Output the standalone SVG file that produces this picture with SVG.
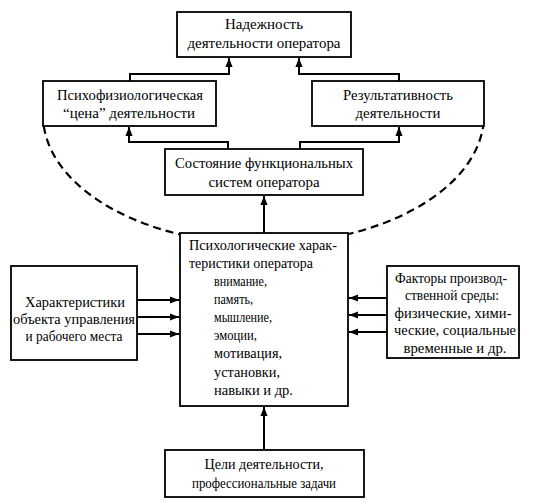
<svg xmlns="http://www.w3.org/2000/svg" width="541" height="503" viewBox="0 0 541 503">
<style>
.box{fill:#fff;stroke:#000;stroke-width:1.8}
.ln{fill:none;stroke:#000;stroke-width:2}
.dash{fill:none;stroke:#000;stroke-width:2.2;stroke-dasharray:8 5}
text{font-family:"Liberation Serif","DejaVu Serif",serif;font-size:15px;fill:#000}
.c{text-anchor:middle}
</style>
<defs>
<marker id="ah" viewBox="0 0 10 10" refX="10" refY="5" markerWidth="4.5" markerHeight="4.5" markerUnits="strokeWidth" orient="auto">
<path d="M0,1 L10,5 L0,9 z" fill="#000"/>
</marker>
</defs>
<rect width="541" height="503" fill="#fff"/>
<path class="dash" d="M43.8,126 A220.5,129 0 0 0 483.2,126"/>
<g id="connectors">
<polyline class="ln" points="130,81 130,74 229,74 229,58" marker-end="url(#ah)"/>
<polyline class="ln" points="399,81 399,74 299,74 299,58" marker-end="url(#ah)"/>
<polyline class="ln" points="228,149 228,142 129,142 129,127" marker-end="url(#ah)"/>
<polyline class="ln" points="300,149 300,142 399,142 399,127" marker-end="url(#ah)"/>
<line class="ln" x1="264" y1="233" x2="264" y2="196" marker-end="url(#ah)"/>
<line class="ln" x1="264" y1="450" x2="264" y2="407" marker-end="url(#ah)"/>
<line class="ln" x1="137" y1="300" x2="179" y2="300" marker-end="url(#ah)"/>
<line class="ln" x1="137" y1="317" x2="179" y2="317" marker-end="url(#ah)"/>
<line class="ln" x1="137" y1="334" x2="179" y2="334" marker-end="url(#ah)"/>
<line class="ln" x1="387" y1="298" x2="349" y2="298" marker-end="url(#ah)"/>
<line class="ln" x1="387" y1="315" x2="349" y2="315" marker-end="url(#ah)"/>
<line class="ln" x1="387" y1="332" x2="349" y2="332" marker-end="url(#ah)"/>
</g>
<g id="n_reliability">
<rect class="box" x="177" y="12" width="174" height="45"/>
<text class="c" x="264" y="29" textLength="78" lengthAdjust="spacingAndGlyphs">Надежность</text>
<text class="c" x="264" y="48" textLength="153" lengthAdjust="spacingAndGlyphs">деятельности оператора</text>
</g>
<g id="n_price">
<rect class="box" x="43" y="81" width="173" height="45"/>
<text class="c" x="130" y="100" textLength="146" lengthAdjust="spacingAndGlyphs">Психофизиологическая</text>
<text class="c" x="129" y="118" textLength="132" lengthAdjust="spacingAndGlyphs">“цена” деятельности</text>
</g>
<g id="n_result">
<rect class="box" x="312" y="81" width="172" height="45"/>
<text class="c" x="398" y="100" textLength="110" lengthAdjust="spacingAndGlyphs">Результативность</text>
<text class="c" x="398" y="118" textLength="85" lengthAdjust="spacingAndGlyphs">деятельности</text>
</g>
<g id="n_state">
<rect class="box" x="165" y="149" width="198" height="46"/>
<text class="c" x="264" y="168" textLength="178" lengthAdjust="spacingAndGlyphs">Состояние функциональных</text>
<text class="c" x="264" y="187" textLength="111" lengthAdjust="spacingAndGlyphs">систем оператора</text>
</g>
<g id="n_psych">
<rect class="box" x="180" y="233" width="168" height="173"/>
<text x="189" y="250" textLength="148" lengthAdjust="spacingAndGlyphs">Психологические харак-</text>
<text x="189" y="268" textLength="124" lengthAdjust="spacingAndGlyphs">теристики оператора</text>
<text x="214" y="286" textLength="53" lengthAdjust="spacingAndGlyphs">внимание,</text>
<text x="214" y="304" textLength="39" lengthAdjust="spacingAndGlyphs">память,</text>
<text x="214" y="322" textLength="58" lengthAdjust="spacingAndGlyphs">мышление,</text>
<text x="214" y="340" textLength="43" lengthAdjust="spacingAndGlyphs">эмоции,</text>
<text x="214" y="358" textLength="68" lengthAdjust="spacingAndGlyphs">мотивация,</text>
<text x="214" y="377" textLength="66" lengthAdjust="spacingAndGlyphs">установки,</text>
<text x="214" y="395" textLength="79" lengthAdjust="spacingAndGlyphs">навыки и др.</text>
</g>
<g id="n_object">
<rect class="box" x="11" y="266" width="126" height="94"/>
<text class="c" x="75" y="307" textLength="100" lengthAdjust="spacingAndGlyphs">Характеристики</text>
<text class="c" x="74" y="324" textLength="122" lengthAdjust="spacingAndGlyphs">объекта управления</text>
<text class="c" x="74" y="341" textLength="97" lengthAdjust="spacingAndGlyphs">и рабочего места</text>
</g>
<g id="n_env">
<rect class="box" x="387" y="266" width="132" height="92"/>
<text class="c" x="451" y="283" textLength="112" lengthAdjust="spacingAndGlyphs">Факторы производ-</text>
<text class="c" x="452" y="300" textLength="94" lengthAdjust="spacingAndGlyphs">ственной среды:</text>
<text class="c" x="453" y="318" textLength="117" lengthAdjust="spacingAndGlyphs">физические, хими-</text>
<text class="c" x="455" y="335" textLength="122" lengthAdjust="spacingAndGlyphs">ческие, социальные</text>
<text class="c" x="455" y="353" textLength="103" lengthAdjust="spacingAndGlyphs">временные и др.</text>
</g>
<g id="n_goals">
<rect class="box" x="165" y="450" width="199" height="47"/>
<text class="c" x="264" y="469" textLength="119" lengthAdjust="spacingAndGlyphs">Цели деятельности,</text>
<text class="c" x="264" y="488" textLength="144" lengthAdjust="spacingAndGlyphs">профессиональные задачи</text>
</g>
</svg>
